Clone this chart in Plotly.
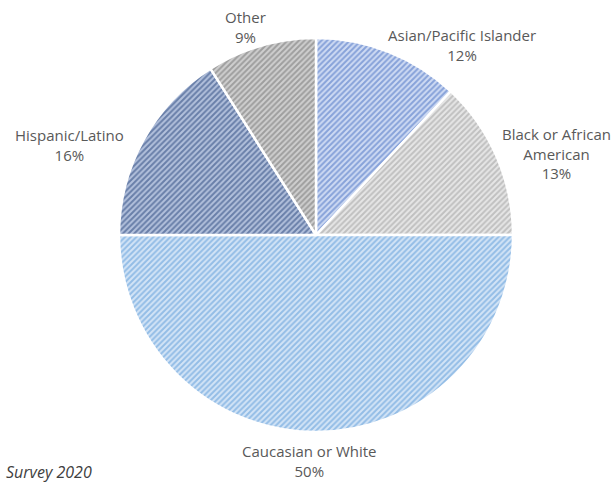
import plotly.graph_objects as go

labels = ["Asian/Pacific Islander", "Black or African<br>American", "Caucasian or White", "Hispanic/Latino", "Other"]
values = [12, 13, 50, 16, 9]
fg_colors = ["#3f69c0", "#9a9a9a", "#5495d6", "#1f3d75", "#6e6e6e"]
bg_colors = ["#cfdbf3", "#e6e6e6", "#d3e4f6", "#b3c1dc", "#cfcfcf"]
label_pos = [(462, 45), (556, 153), (309, 461), (69, 145), (245, 27)]
source_text = "Survey 2020"

W, H = 616, 482
cx, cy, r = 316, 235, 197

fig = go.Figure(go.Pie(
    labels=labels,
    values=values,
    sort=False,
    direction="clockwise",
    rotation=0,
    textinfo="none",
    hoverinfo="label+percent",
    marker=dict(
        colors=bg_colors,
        line=dict(color="white", width=2.5),
        pattern=dict(shape="/", fgcolor=fg_colors, bgcolor=bg_colors, size=4, solidity=0.5, fillmode="overlay"),
    ),
    domain=dict(x=[(cx - r) / W, (cx + r) / W], y=[(H - cy - r) / H, (H - cy + r) / H]),
    showlegend=False,
))

total = sum(values)
for lab, v, (x, y) in zip(labels, values, label_pos):
    fig.add_annotation(
        x=x / W, y=1 - y / H, xref="paper", yref="paper",
        text=f"{lab}<br>{round(100 * v / total)}%",
        showarrow=False, align="center", xanchor="center", yanchor="middle",
        font=dict(family="Open Sans", size=15, color="#595959"),
    )

fig.add_annotation(
    x=4 / W, y=1 - 472 / H, xref="paper", yref="paper",
    text=f"<i>{source_text}</i>", showarrow=False, xanchor="left", yanchor="middle",
    font=dict(family="Open Sans", size=16, color="#404040"),
)

fig.update_layout(
    width=W, height=H,
    margin=dict(l=0, r=0, t=0, b=0),
    paper_bgcolor="white", plot_bgcolor="white",
)

fig.write_html("out.html")
